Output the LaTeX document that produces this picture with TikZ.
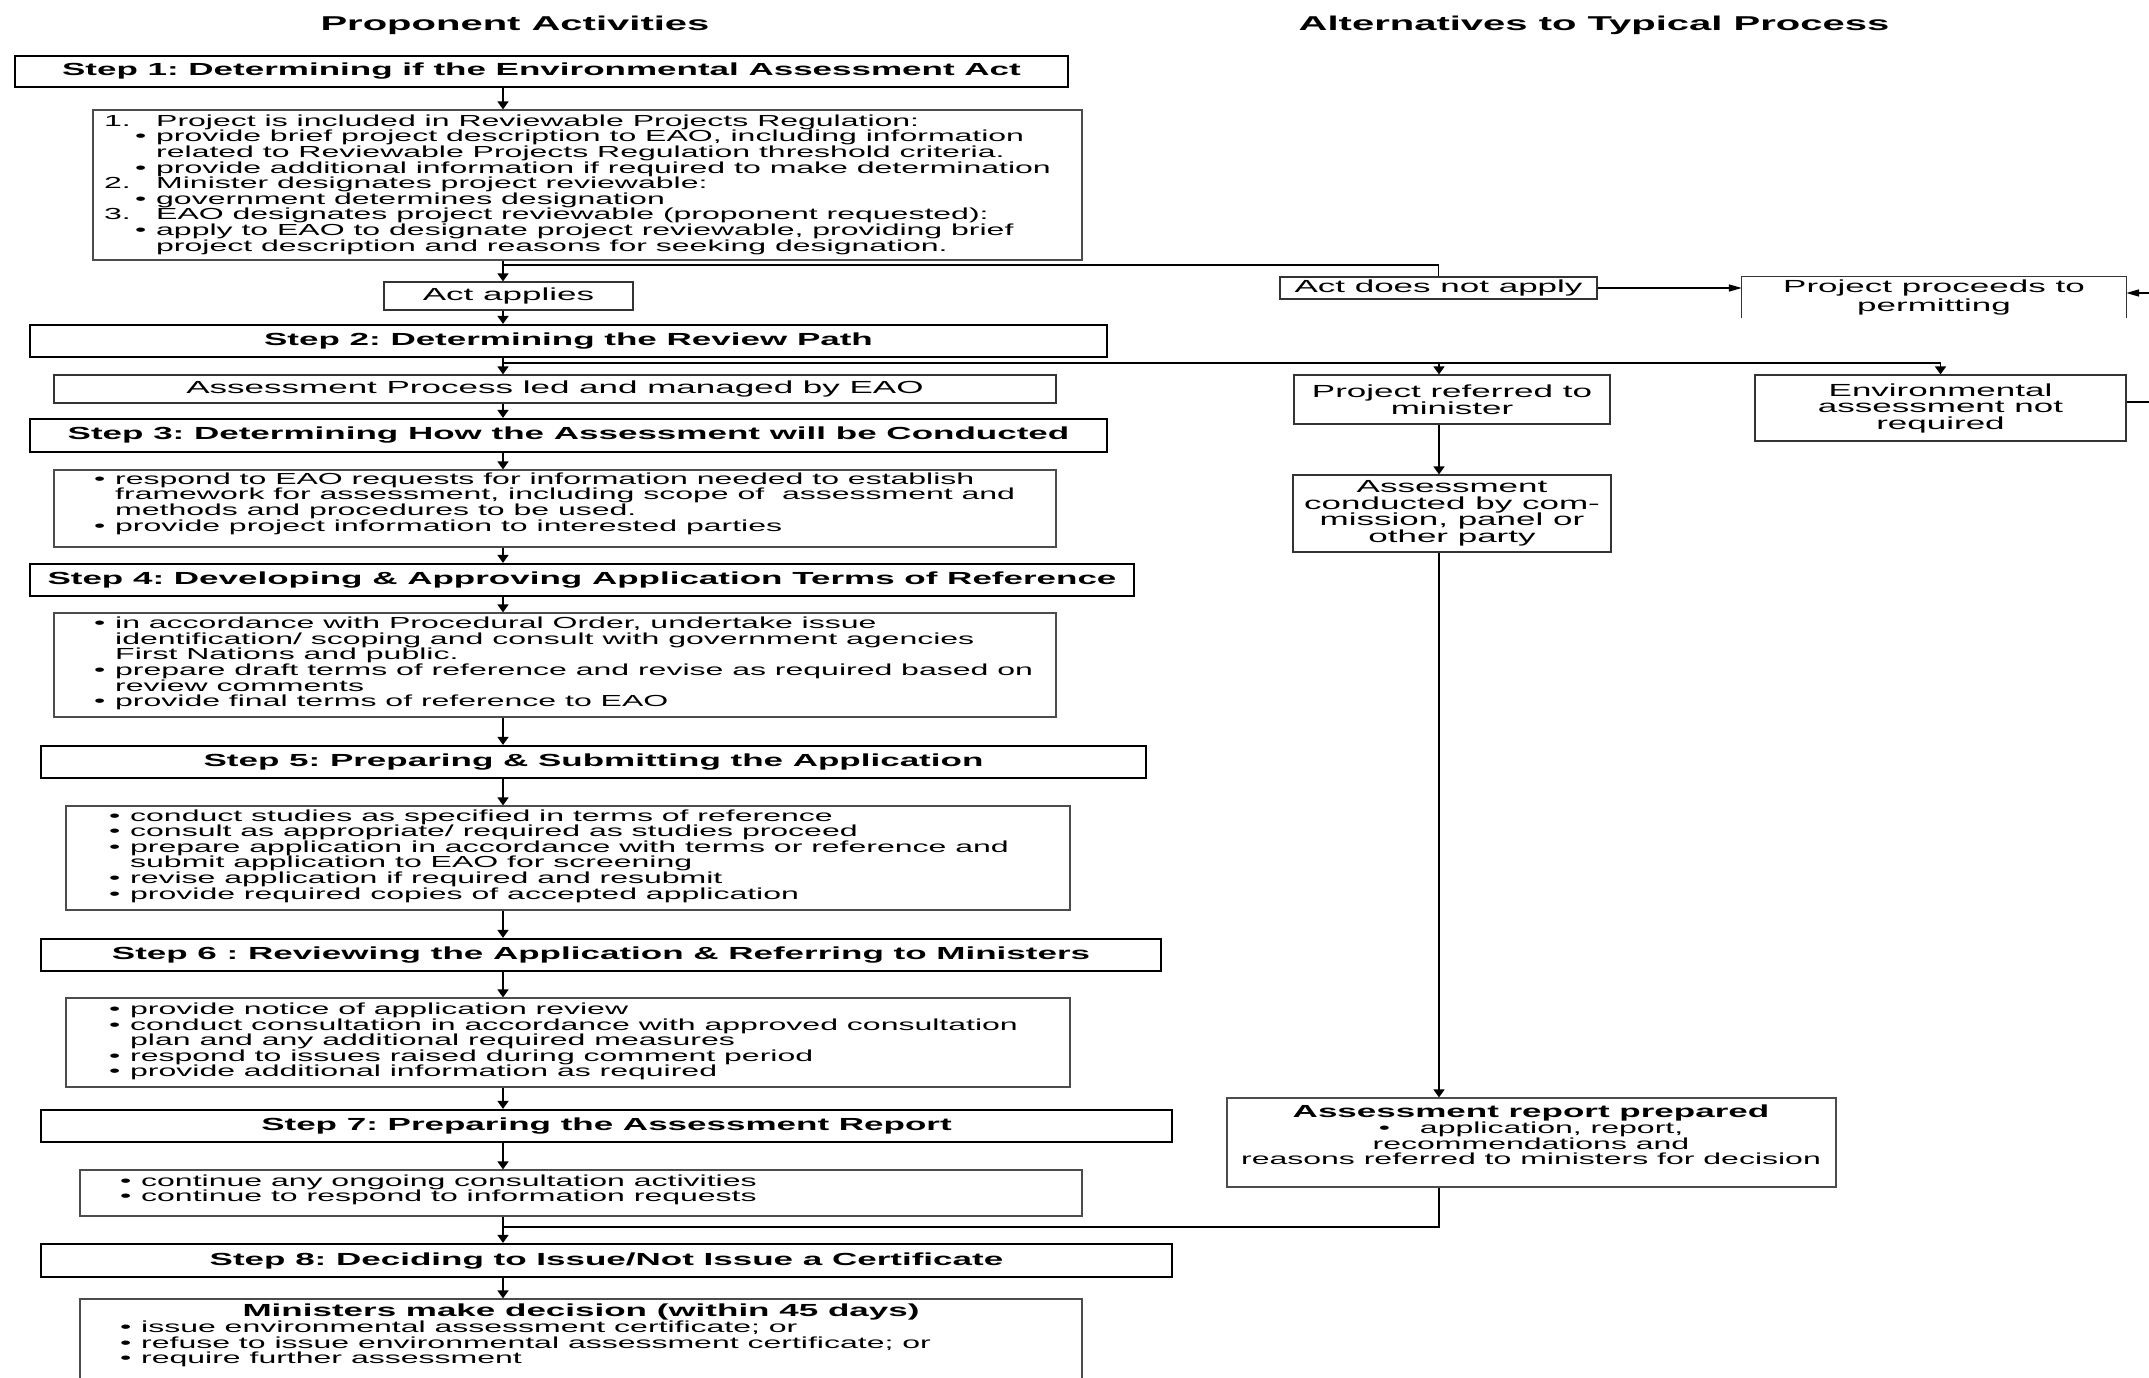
\documentclass[tikz,border=0pt]{standalone}
\usepackage{fontspec}
\setmainfont{Liberation Sans}[FakeStretch=2.0]
\usetikzlibrary{arrows.meta}
\frenchspacing
\newcommand\bitem[1]{\makebox[21pt][l]{\textbullet}#1}
\newcommand\bcont[1]{\hspace*{21pt}#1}
\begin{document}
\begin{tikzpicture}[x=1pt,y=-1pt,
  hdr/.style={draw=black, line width=2.2pt, inner sep=0pt, font=\fontsize{17.5}{17}\selectfont\bfseries},
  cbox/.style={draw=black!70, line width=1.2pt, inner sep=0pt},
  abox/.style={draw=black!80, line width=1.2pt, inner sep=0pt, align=center, font=\fontsize{17.5}{16.5}\selectfont},
  body/.style={inner sep=0pt, align=left, font=\fontsize{16}{15.6}\selectfont},
  ttl/.style={inner sep=0pt, font=\fontsize{20}{22}\selectfont\bfseries},
  conn/.style={line width=1.6pt, draw=black},
  varr/.style={conn, -{Triangle[length=8pt,width=11pt]}},
  harr/.style={conn, -{Triangle[length=13pt,width=7pt]}}]
\useasboundingbox (0,0) rectangle (2149,1378);
\fill[white] (0,0) rectangle (2149,1378);
\clip (0,0) rectangle (2149,1378);

% titles
\node[ttl] (tl) at (515,25.5) {Proponent Activities};
\node[ttl] (tr) at (1594,25.5) {Alternatives to Typical Process};

% step headers
\node[hdr, minimum width=1053pt, minimum height=31pt] (s1) at (541.5,71.5) {Step 1: Determining if the Environmental Assessment Act};
\node[hdr, minimum width=1077pt, minimum height=32pt] (s2) at (568.5,341) {Step 2: Determining the Review Path};
\node[hdr, minimum width=1077pt, minimum height=33pt] (s3) at (568.5,435.5) {Step 3: Determining How the Assessment will be Conducted};
\node[hdr, minimum width=1104pt, minimum height=32pt] (s4) at (582,580) {Step 4: Developing \& Approving Application Terms of Reference};
\node[hdr, minimum width=1105pt, minimum height=32pt] (s5) at (593.5,762) {Step 5: Preparing \& Submitting the Application};
\node[hdr, minimum width=1120pt, minimum height=32pt] (s6) at (601,955) {Step 6 : Reviewing the Application \& Referring to Ministers};
\node[hdr, minimum width=1131pt, minimum height=32pt] (s7) at (606.5,1126) {Step 7: Preparing the Assessment Report};
\node[hdr, minimum width=1131pt, minimum height=33pt] (s8) at (606.5,1260.5) {Step 8: Deciding to Issue/Not Issue a Certificate};

% content boxes
\node[cbox, minimum width=989pt, minimum height=150pt] (b1) at (587.5,185) {};
\node[body, anchor=west] (t1) at (104,184.5) {%
\makebox[52pt][l]{1.}Project is included in Reviewable Projects Regulation:\\
\hspace*{31pt}\bitem{provide brief project description to EAO, including information}\\
\hspace*{52pt}related to Reviewable Projects Regulation threshold criteria.\\
\hspace*{31pt}\bitem{provide additional information if required to make determination}\\
\makebox[52pt][l]{2.}Minister designates project reviewable:\\
\hspace*{31pt}\bitem{government determines designation}\\
\makebox[52pt][l]{3.}EAO designates project reviewable (proponent requested):\\
\hspace*{31pt}\bitem{apply to EAO to designate project reviewable, providing brief}\\
\hspace*{52pt}project description and reasons for seeking designation.};

\node[abox, minimum width=249pt, minimum height=28pt] (actap) at (508.5,296) {Act applies};
\node[abox, minimum width=1002pt, minimum height=28pt] (ap) at (555,389) {Assessment Process led and managed by EAO};

\node[cbox, minimum width=1002pt, minimum height=77pt] (b3) at (555,508.5) {};
\node[body, anchor=west] (t3) at (94,503.5) {%
\bitem{respond to EAO requests for information needed to establish}\\
\bcont{framework for assessment, including scope of~ assessment and}\\
\bcont{methods and procedures to be used.}\\
\bitem{provide project information to interested parties}};

\node[cbox, minimum width=1002pt, minimum height=104pt] (b4) at (555,665) {};
\node[body, anchor=west] (t4) at (94,663.5) {%
\bitem{in accordance with Procedural Order, undertake issue}\\
\bcont{identification/ scoping and consult with government agencies}\\
\bcont{First Nations and public.}\\
\bitem{prepare draft terms of reference and revise as required based on}\\
\bcont{review comments}\\
\bitem{provide final terms of reference to EAO}};

\node[cbox, minimum width=1004pt, minimum height=104pt] (b5) at (568,858) {};
\node[body, anchor=west] (t5) at (109,856) {%
\bitem{conduct studies as specified in terms of reference}\\
\bitem{consult as appropriate/ required as studies proceed}\\
\bitem{prepare application in accordance with terms or reference and}\\
\bcont{submit application to EAO for screening}\\
\bitem{revise application if required and resubmit}\\
\bitem{provide required copies of accepted application}};

\node[cbox, minimum width=1004pt, minimum height=89pt] (b6) at (568,1042.5) {};
\node[body, anchor=west] (t6) at (109,1041.5) {%
\bitem{provide notice of application review}\\
\bitem{conduct consultation in accordance with approved consultation}\\
\bcont{plan and any additional required measures}\\
\bitem{respond to issues raised during comment period}\\
\bitem{provide additional information as required}};

\node[cbox, minimum width=1002pt, minimum height=46pt] (b7) at (581,1193) {};
\node[body, anchor=west] (t7) at (120,1190) {%
\bitem{continue any ongoing consultation activities}\\
\bitem{continue to respond to information requests}};

\node[cbox, minimum width=1002pt, minimum height=101pt] (b8) at (581,1349.5) {};
\node[inner sep=0pt, font=\fontsize{17.5}{17}\selectfont\bfseries] (b8t) at (581,1312) {Ministers make decision (within 45 days)};
\node[body, anchor=west] (t8) at (120,1344) {%
\bitem{issue environmental assessment certificate; or}\\
\bitem{refuse to issue environmental assessment certificate; or}\\
\bitem{require further assessment}};

% alternatives column
\node[abox, minimum width=317pt, minimum height=22pt] (actno) at (1438.5,288) {Act does not apply};
\node[inner sep=0pt, align=center, font=\fontsize{17.5}{19}\selectfont, minimum width=384pt, minimum height=41pt] (perm) at (1934,297.5) {Project proceeds to\\permitting};
\draw[draw=black!80, line width=1.2pt] (perm.south west) |- (perm.north east) -- (perm.south east);
\node[abox, minimum width=316pt, minimum height=49pt] (ref) at (1452,399.5) {Project referred to\\minister};
\node[abox, minimum width=371pt, minimum height=66pt] (env) at (1940.5,408) {Environmental\\assessment not\\required};
\node[abox, minimum width=318pt, minimum height=77pt] (cond) at (1452,513.5) {Assessment\\conducted by com-\\mission, panel or\\other party};
\node[cbox, minimum width=609pt, minimum height=89pt] (arp) at (1531.5,1142.5) {};
\node[inner sep=0pt, align=center, font=\fontsize{16}{15.6}\selectfont] (arpt) at (1531,1135) {%
{\fontsize{17.5}{15.6}\selectfont\bfseries Assessment report prepared}\\
\textbullet\hspace{30pt}application, report,\\
recommendations and\\
reasons referred to ministers for decision};

% connectors
\coordinate (vx) at (503,0);
\coordinate (vx2) at (1439,0);
\coordinate (j1) at (503,265);
\coordinate (j2) at (503,363);
\coordinate (j3) at (503,1227);
\coordinate (r1) at (2160,293);
\coordinate (r2) at (2160,402);

\draw[varr] (s1.south -| vx) -- (b1.north -| vx);
\draw[varr] (b1.south -| vx) -- (actap.north -| vx);
\draw[conn] (j1) -| (actno.north);
\draw[harr] (actno.east) -- (actno.east -| perm.west);
\draw[harr] (r1) -- (r1 -| perm.east);
\draw[conn] (env.east |- r2) -- (r2);
\draw[varr] (actap.south -| vx) -- (s2.north -| vx);
\draw[varr] (s2.south -| vx) -- (ap.north -| vx);
\draw[conn] (j2) -- (j2 -| env.north);
\draw[varr] (j2 -| vx2) -- (ref.north -| vx2);
\draw[varr] (j2 -| env.north) -- (env.north);
\draw[varr] (ref.south -| vx2) -- (cond.north -| vx2);
\draw[varr] (cond.south -| vx2) -- (arp.north -| vx2);
\draw[conn] (arp.south -| vx2) |- (j3);
\draw[varr] (ap.south -| vx) -- (s3.north -| vx);
\draw[varr] (s3.south -| vx) -- (b3.north -| vx);
\draw[varr] (b3.south -| vx) -- (s4.north -| vx);
\draw[varr] (s4.south -| vx) -- (b4.north -| vx);
\draw[varr] (b4.south -| vx) -- (s5.north -| vx);
\draw[varr] (s5.south -| vx) -- (b5.north -| vx);
\draw[varr] (b5.south -| vx) -- (s6.north -| vx);
\draw[varr] (s6.south -| vx) -- (b6.north -| vx);
\draw[varr] (b6.south -| vx) -- (s7.north -| vx);
\draw[varr] (s7.south -| vx) -- (b7.north -| vx);
\draw[varr] (b7.south -| vx) -- (s8.north -| vx);
\draw[varr] (s8.south -| vx) -- (b8.north -| vx);
\end{tikzpicture}
\end{document}
